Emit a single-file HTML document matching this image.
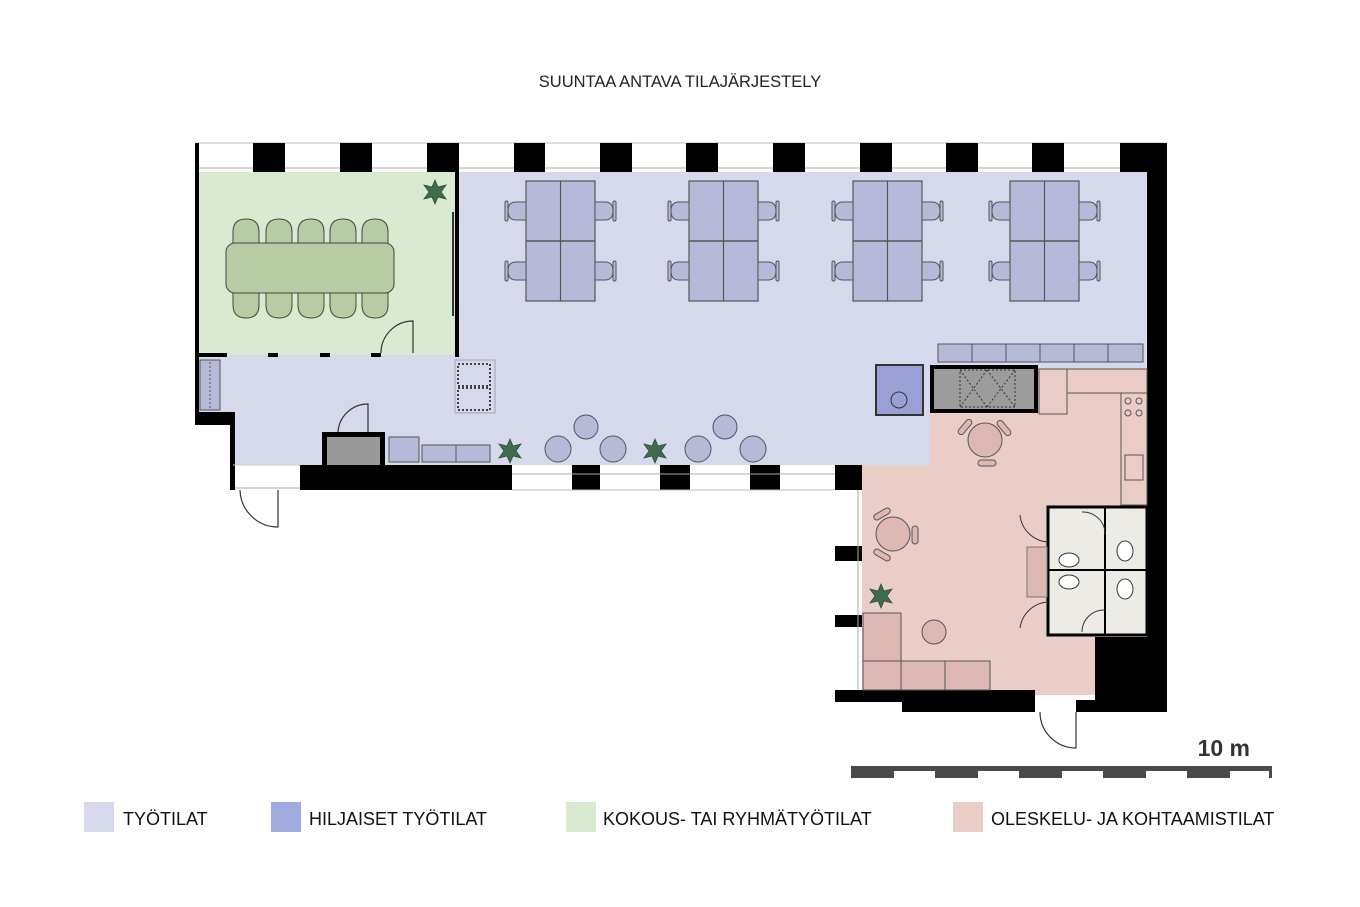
<!DOCTYPE html>
<html><head><meta charset="utf-8"><style>
html,body{margin:0;padding:0;background:#fff;}
svg{display:block;}
text{font-family:"Liberation Sans",sans-serif;}
</style></head><body>
<svg width="1360" height="907" viewBox="0 0 1360 907" xmlns="http://www.w3.org/2000/svg">
<defs>
<g id="plant"><path d="M0,-12 L3,-5 L11,-7 L6,0 L11,7 L3,5 L0,12 L-3,5 L-11,7 L-6,0 L-11,-7 L-3,-5Z" fill="#3f6b4c" stroke="#2d4f37" stroke-width="0.8"/></g>
<g id="chairL"><path d="M18,-9 L8,-9 Q0,-9 0,0 Q0,9 8,9 L18,9Z" fill="#b6bad8" stroke="#555" stroke-width="1"/><rect x="-3" y="-10" width="3" height="20" rx="1.5" fill="#b6bad8" stroke="#555" stroke-width="1"/></g>
<g id="desk"><rect x="0" y="0" width="69" height="120" fill="#b6bad8" stroke="#555" stroke-width="1.2"/><line x1="34.5" y1="0" x2="34.5" y2="120" stroke="#555" stroke-width="1.2"/><line x1="0" y1="60" x2="69" y2="60" stroke="#555" stroke-width="1.5"/>
<use href="#chairL" x="-18" y="30"/><use href="#chairL" x="-18" y="90"/>
<use href="#chairL" transform="translate(87,30) scale(-1,1)"/><use href="#chairL" transform="translate(87,90) scale(-1,1)"/></g>
<g id="mchair"><path d="M-13,12 L-13,0 Q-13,-13 0,-13 Q13,-13 13,0 L13,12" fill="#b7cba5" stroke="#444" stroke-width="1"/></g>
<g id="pchair"><rect x="-9" y="-3" width="18" height="6" rx="3" fill="#ddb8b3" stroke="#555"/></g>
</defs>

<text x="680" y="87" text-anchor="middle" font-size="16.5" fill="#222">SUUNTAA ANTAVA TILAJÄRJESTELY</text>

<!-- floors -->
<rect x="199" y="172" width="948" height="196" fill="#d6d8ec"/>
<rect x="233" y="355" width="697" height="110" fill="#d6d8ec"/>
<rect x="199" y="355" width="40" height="60" fill="#d6d8ec"/>
<rect x="930" y="368" width="217" height="140" fill="#ebcdc8"/>
<rect x="862" y="465" width="285" height="230" fill="#ebcdc8"/>
<rect x="199" y="172" width="258" height="183" fill="#d9ead0"/>

<!-- top window strip -->
<rect x="195" y="143" width="972" height="29" fill="#fff"/>
<line x1="195" y1="168" x2="1167" y2="168" stroke="#aaa" stroke-width="1"/>
<line x1="195" y1="143" x2="1167" y2="143" stroke="#bbb" stroke-width="1"/>
<g fill="#000">
<rect x="253" y="143" width="32" height="29"/><rect x="340" y="143" width="32" height="29"/><rect x="427" y="143" width="32" height="29"/>
<rect x="514" y="143" width="31" height="29"/><rect x="600" y="143" width="32" height="29"/><rect x="686" y="143" width="32" height="29"/>
<rect x="773" y="143" width="32" height="29"/><rect x="860" y="143" width="32" height="29"/><rect x="946" y="143" width="32" height="29"/>
<rect x="1032" y="143" width="32" height="29"/><rect x="1120" y="143" width="47" height="29"/>
<rect x="1147" y="143" width="20" height="569"/>
<rect x="195" y="143" width="4" height="282"/>
<rect x="195" y="412" width="40" height="13"/>
<rect x="230" y="412" width="5" height="78"/>
<rect x="455" y="172" width="4" height="185"/>
<rect x="199" y="353" width="28" height="4"/><rect x="268" y="353" width="10" height="4"/><rect x="320" y="353" width="10" height="4"/><rect x="371" y="353" width="10" height="4"/>
<rect x="300" y="465" width="212" height="25"/>
<rect x="835" y="465" width="27" height="25"/>
<rect x="835" y="690" width="200" height="12"/><rect x="902" y="700" width="133" height="12"/>
<rect x="1095" y="637" width="72" height="75"/>
<rect x="1076" y="700" width="91" height="12"/>
</g>
<rect x="512" y="470" width="323" height="20" fill="#fff"/>
<g fill="#000"><rect x="572" y="465" width="28" height="25"/><rect x="660" y="465" width="30" height="25"/><rect x="750" y="465" width="30" height="25"/></g>
<line x1="512" y1="474" x2="835" y2="474" stroke="#aaa"/>
<line x1="512" y1="490" x2="835" y2="490" stroke="#bbb"/>
<rect x="835" y="490" width="27" height="200" fill="#fff"/>
<g fill="#000"><rect x="835" y="546" width="27" height="15"/><rect x="835" y="615" width="27" height="12"/></g>
<line x1="858" y1="490" x2="858" y2="690" stroke="#aaa"/>
<line x1="235" y1="488" x2="300" y2="488" stroke="#aaa"/>
<line x1="233" y1="465" x2="300" y2="465" stroke="#ccc"/>

<!-- doors -->
<path d="M240,490 A38,38 0 0 0 278,527 L278,490" fill="none" stroke="#333" stroke-width="1.2"/>
<path d="M1040,712 A36,36 0 0 0 1076,748 L1076,712" fill="none" stroke="#333" stroke-width="1.2"/>
<path d="M381,353 A32,32 0 0 1 413,321 L413,353" fill="none" stroke="#333" stroke-width="1.2"/>
<path d="M338,432 A30,30 0 0 1 368,404 L368,432" fill="none" stroke="#333" stroke-width="1.2"/>

<!-- meeting room -->
<line x1="453" y1="212" x2="453" y2="316" stroke="#333" stroke-width="2"/>
<g>
<use href="#mchair" x="246" y="232"/><use href="#mchair" x="279" y="232"/><use href="#mchair" x="311" y="232"/><use href="#mchair" x="343" y="232"/><use href="#mchair" x="375" y="232"/>
<use href="#mchair" transform="translate(246,305) scale(1,-1)"/><use href="#mchair" transform="translate(279,305) scale(1,-1)"/><use href="#mchair" transform="translate(311,305) scale(1,-1)"/><use href="#mchair" transform="translate(343,305) scale(1,-1)"/><use href="#mchair" transform="translate(375,305) scale(1,-1)"/>
</g>
<rect x="226" y="243" width="168" height="50" rx="9" fill="#b7cba5" stroke="#444" stroke-width="1"/>
<use href="#plant" x="435" y="192"/>

<use href="#desk" x="526" y="181"/><use href="#desk" x="689" y="181"/><use href="#desk" x="853" y="181"/><use href="#desk" x="1010" y="181"/>

<rect x="200" y="360" width="20" height="50" fill="#b6bad8" stroke="#555"/>
<line x1="210" y1="362" x2="210" y2="408" stroke="#555" stroke-dasharray="2,2"/>
<rect x="455" y="360" width="40" height="53" fill="none" stroke="#999" stroke-width="0.8"/>
<rect x="458" y="364" width="32" height="22" fill="none" stroke="#111" stroke-dasharray="2,2" stroke-width="1.5"/>
<rect x="458" y="388" width="32" height="22" fill="none" stroke="#111" stroke-dasharray="2,2" stroke-width="1.5"/>
<rect x="322" y="432" width="63" height="35" fill="#000"/>
<rect x="327" y="437" width="53" height="28" fill="#999"/>
<rect x="389" y="437" width="30" height="25" fill="#b6bad8" stroke="#555"/>
<rect x="422" y="445" width="68" height="17" fill="#b6bad8" stroke="#555"/>
<line x1="456" y1="445" x2="456" y2="462" stroke="#555"/>
<use href="#plant" x="510" y="451"/><use href="#plant" x="655" y="451"/>
<g fill="#b6bad8" stroke="#555" stroke-width="1">
<circle cx="586" cy="427" r="12"/><circle cx="725" cy="427" r="12"/>
<circle cx="558" cy="449" r="13"/><circle cx="613" cy="449" r="13"/><circle cx="698" cy="449" r="13"/><circle cx="753" cy="449" r="13"/>
</g>

<g fill="#b6bad8" stroke="#555">
<rect x="938" y="344" width="34" height="18"/><rect x="972" y="344" width="34" height="18"/><rect x="1006" y="344" width="34" height="18"/><rect x="1040" y="344" width="34" height="18"/><rect x="1074" y="344" width="34" height="18"/><rect x="1108" y="344" width="35" height="18"/>
</g>
<rect x="876" y="365" width="47" height="50" fill="#9aa0d6" stroke="#333" stroke-width="2"/>
<circle cx="899" cy="400" r="8" fill="#9aa0d6" stroke="#333"/>
<rect x="930" y="365" width="108" height="48" fill="#000"/>
<rect x="934" y="369" width="100" height="40" fill="#9c9c9c"/>
<rect x="960" y="370" width="55" height="37" fill="none" stroke="#333" stroke-dasharray="2,2"/>
<path d="M960,370 L987,407 M987,370 L960,407 M987,370 L1015,407 M1015,370 L987,407" stroke="#333" stroke-dasharray="2,2"/>
<rect x="1039" y="369" width="28" height="45" fill="#ebcdc8" stroke="#555"/>
<rect x="1067" y="369" width="80" height="24" fill="#ebcdc8" stroke="#555"/>
<rect x="1121" y="393" width="26" height="112" fill="#ebcdc8" stroke="#555"/>
<rect x="1125" y="455" width="18" height="25" fill="none" stroke="#555"/>
<g fill="none" stroke="#555"><circle cx="1128" cy="401" r="3"/><circle cx="1139" cy="401" r="3"/><circle cx="1128" cy="413" r="3"/><circle cx="1139" cy="413" r="3"/></g>
<rect x="1048" y="507" width="99" height="128" fill="#ecebe6" stroke="#000" stroke-width="3"/>
<line x1="1105" y1="507" x2="1105" y2="635" stroke="#000" stroke-width="2"/>
<line x1="1048" y1="570" x2="1147" y2="570" stroke="#000" stroke-width="2"/>
<g fill="#fff" stroke="#333"><ellipse cx="1069" cy="560" rx="10" ry="7"/><ellipse cx="1069" cy="582" rx="10" ry="7"/><ellipse cx="1125" cy="551" rx="8" ry="10"/><ellipse cx="1125" cy="589" rx="8" ry="10"/></g>
<rect x="1027" y="547" width="20" height="50" fill="#ddb8b3" stroke="#777"/>
<path d="M1020,515 A30,30 0 0 0 1048,542 M1020,628 A30,30 0 0 1 1048,602 M1082,512 A22,22 0 0 1 1105,535 M1082,632 A22,22 0 0 1 1105,610" fill="none" stroke="#333"/>
<!-- pink chairs -->
<use href="#pchair" transform="translate(965,427) rotate(-50)"/>
<use href="#pchair" transform="translate(1004,428) rotate(50)"/>
<use href="#pchair" transform="translate(987,463) rotate(0)"/>
<use href="#pchair" transform="translate(882,514) rotate(-30)"/>
<use href="#pchair" transform="translate(882,555) rotate(30)"/>
<use href="#pchair" transform="translate(915,535) rotate(90)"/>
<g fill="#ddb8b3" stroke="#555">
<circle cx="985" cy="440" r="17"/><circle cx="893" cy="534" r="17"/><circle cx="934" cy="632" r="12"/>
<rect x="863" y="613" width="38" height="77"/><rect x="863" y="661" width="127" height="29"/>
</g>
<line x1="901" y1="661" x2="901" y2="690" stroke="#555"/><line x1="945" y1="661" x2="945" y2="690" stroke="#555"/>
<use href="#plant" x="881" y="596"/>

<text x="1250" y="756" text-anchor="end" font-size="23" font-weight="bold" fill="#333">10 m</text>
<rect x="851" y="766" width="421" height="5" fill="#4a4a4a"/>
<g fill="#4a4a4a"><rect x="851" y="766" width="43" height="12"/><rect x="935" y="766" width="43" height="12"/><rect x="1019" y="766" width="43" height="12"/><rect x="1103" y="766" width="43" height="12"/><rect x="1187" y="766" width="43" height="12"/><rect x="1269" y="766" width="3" height="12"/></g>

<rect x="84" y="802" width="30" height="30" fill="#d6d8ec"/><text x="123" y="825" font-size="18" fill="#111">TYÖTILAT</text>
<rect x="271" y="802" width="30" height="30" fill="#9faadd"/><text x="309" y="825" font-size="18" fill="#111">HILJAISET TYÖTILAT</text>
<rect x="566" y="802" width="30" height="30" fill="#d9ead0"/><text x="603" y="825" font-size="18" fill="#111">KOKOUS- TAI RYHMÄTYÖTILAT</text>
<rect x="953" y="802" width="30" height="30" fill="#ebcdc8"/><text x="991" y="825" font-size="18" fill="#111">OLESKELU- JA KOHTAAMISTILAT</text>
</svg>
</body></html>
